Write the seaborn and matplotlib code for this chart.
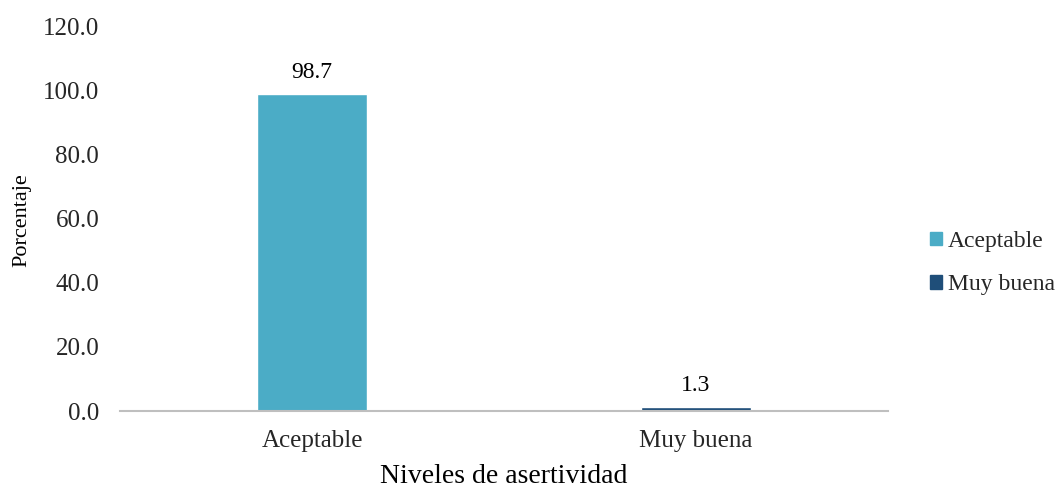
import matplotlib
matplotlib.use("Agg")
import matplotlib.pyplot as plt
import seaborn as sns
import pandas as pd

# Data
categories = ["Aceptable", "Muy buena"]
percentages = [98.7, 1.3]
colors = ["#4BACC6", "#1F4E79"]
y_ticks = [0, 20, 40, 60, 80, 100, 120]

df = pd.DataFrame({"Nivel": categories, "Porcentaje": percentages})

sns.set_theme(style="white")
plt.rcParams["font.family"] = ["Liberation Serif", "DejaVu Serif"]

fig = plt.figure(figsize=(10.59, 4.90), dpi=100)
ax = fig.add_axes([120 / 1059, 1 - 411 / 490, 768 / 1059, 385 / 490])

sns.barplot(
    data=df, x="Nivel", y="Porcentaje", hue="Nivel",
    palette=dict(zip(categories, colors)), dodge=False,
    width=0.285, saturation=1, ax=ax, legend=False,
)

ax.set_ylim(0, 120)
ax.set_xlim(-0.5, 1.5)
ax.set_yticks(y_ticks)
ax.set_yticklabels([f"{v:.1f}" for v in y_ticks], fontsize=18)
ax.tick_params(axis="y", length=0, pad=15)
ax.tick_params(axis="x", length=0, pad=14, labelsize=18)

for side in ["top", "right", "left"]:
    ax.spines[side].set_visible(False)
ax.spines["bottom"].set_color("#BFBFBF")
ax.spines["bottom"].set_linewidth(1.5)

# Value labels above bars
for container in ax.containers:
    ax.bar_label(container, fmt="%.1f", padding=8, fontsize=17, color="black")

ax.set_ylabel("Porcentaje", fontsize=16, color="black")
ax.yaxis.set_label_coords(-0.1276, 0.496)
ax.yaxis.label.set_va("center")
ax.set_xlabel("Niveles de asertividad", fontsize=20, color="black")
ax.xaxis.set_label_coords(0.5, -0.17)
ax.xaxis.label.set_va("center")

# Legend on the right
handles = [plt.Rectangle((0, 0), 1, 1, color=c) for c in colors]
ax.legend(
    handles, categories, loc="center left",
    bbox_to_anchor=(930 / 1059, 1 - 263 / 490), bbox_transform=fig.transFigure,
    frameon=False, fontsize=17, handlelength=0.5, handleheight=0.5,
    handletextpad=0.25, labelspacing=0.95, borderpad=0, borderaxespad=0,
)

fig.savefig("out.png", dpi=100)
